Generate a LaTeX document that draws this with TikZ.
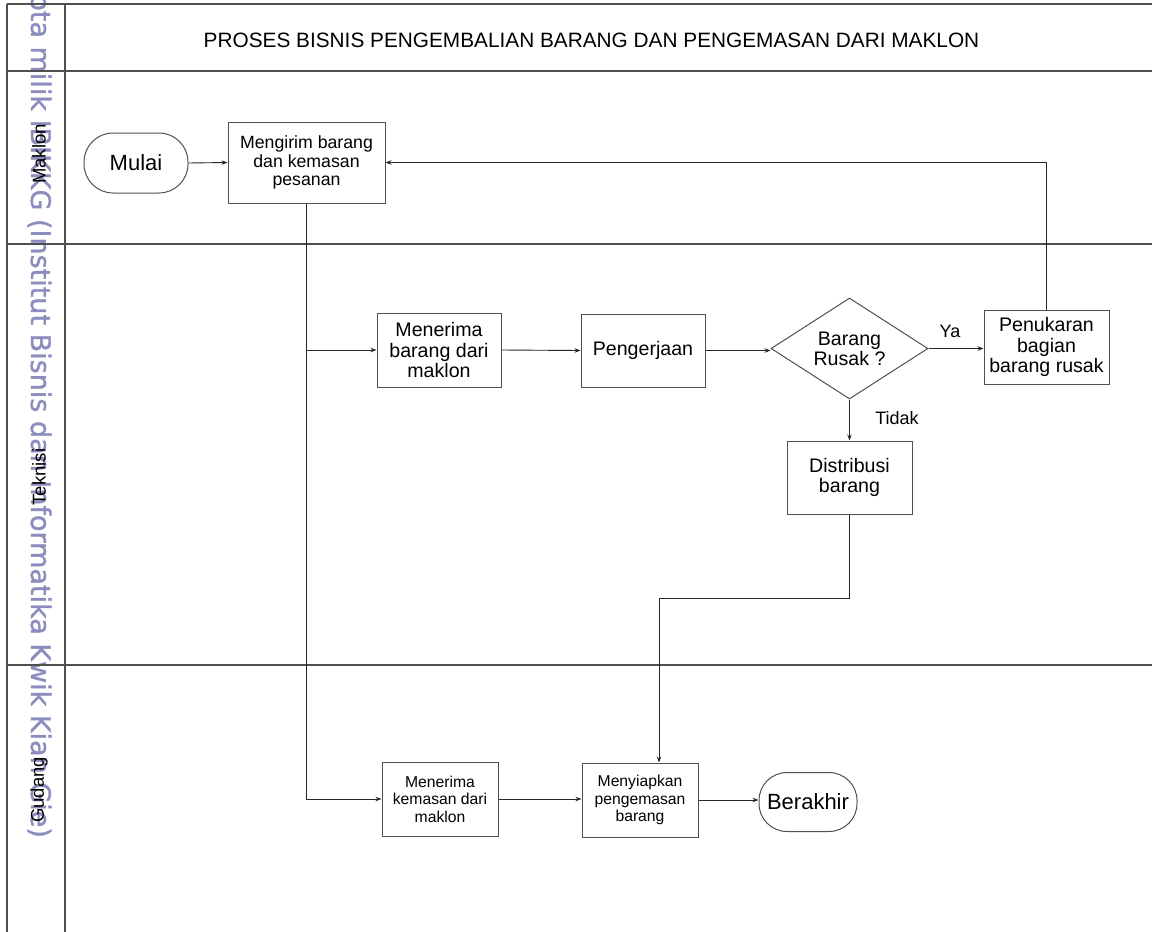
\documentclass[tikz,border=0pt]{standalone}
\usepackage{fontspec}
\setmainfont{Liberation Sans}
\newfontfamily\wmfont[FakeBold=1.2]{DejaVu Sans}
\usetikzlibrary{shapes.geometric,arrows.meta}
\definecolor{wm}{RGB}{140,140,190}
\definecolor{ln}{RGB}{80,80,80}
\tikzset{
  frameline/.style={draw=ln,line width=1.3pt},
  proc/.style={draw=ln,line width=1pt,rectangle,align=center,inner sep=0pt},
  term/.style={draw=ln,line width=1pt,rectangle,rounded corners=29pt,align=center,inner sep=0pt},
  dec/.style={draw=ln,line width=1pt,diamond,aspect=1.55,align=center,inner sep=0pt},
  arr/.style={draw=black!85,line width=0.9pt,-{Stealth[length=6pt,width=4.5pt]}},
  fMak/.style={font=\fontsize{17.7}{18.3}\selectfont},
  fTek/.style={font=\fontsize{19.6}{20.2}\selectfont},
  fGud/.style={font=\fontsize{15.7}{17.5}\selectfont},
  fTerm/.style={font=\fontsize{22}{24}\selectfont},
  fLab/.style={font=\fontsize{18}{20}\selectfont},
  fLane/.style={font=\fontsize{18.5}{19}\selectfont,rotate=90,inner sep=0pt},
}
\begin{document}
\begin{tikzpicture}[x=1pt,y=-1pt]
\useasboundingbox (0,0) rectangle (1152,932);
\fill[white] (0,0) rectangle (1152,932);
% watermark
\begin{scope}
\clip (0,0) rectangle (1152,932);
\node[rotate=-90,anchor=base east,inner sep=0pt,text=wm,font=\wmfont\fontsize{27}{27}\selectfont] (wmark) at (31,838) {pta milik IBIKKG (Institut Bisnis dan Informatika Kwik Kian Gie)};
\end{scope}
% frame
\draw[frameline] (7,4) -- (1152,4);
\draw[frameline] (7,71) -- (1152,71);
\draw[frameline] (7,244) -- (1152,244);
\draw[frameline] (7,665) -- (1152,665);
\draw[frameline] (7,4) -- (7,932);
\draw[frameline] (65,4) -- (65,932);
% title
\node[font=\fontsize{20.8}{22}\selectfont] (title) at (591.5,40) {PROSES BISNIS PENGEMBALIAN BARANG DAN PENGEMASAN DARI MAKLON};
% lane labels
\node[fLane] (lmak) at (39,154) {Maklon};
\node[fLane] (ltek) at (39,477) {Teknisi};
\node[fLane] (lgud) at (39,790) {Gudang};
% nodes
\node[term,fTerm,minimum width=104pt,minimum height=60pt] (mulai) at (136,163) {Mulai};
\node[proc,fMak,minimum width=157pt,minimum height=81pt] (kirim) at (306.5,162.5) {Mengirim barang\\dan kemasan\\pesanan};
\node[proc,fTek,minimum width=124pt,minimum height=74pt] (terima) at (439,350) {Menerima\\barang dari\\maklon};
\node[proc,fTek,minimum width=124pt,minimum height=73pt] (kerja) at (643,350.5) {Pengerjaan};
\node[dec,fTek,minimum width=157pt,minimum height=101pt] (rusak) at (849.5,348.5) {Barang\\Rusak ?};
\node[proc,fTek,minimum width=125pt,minimum height=74pt] (tukar) at (1046.5,347) {Penukaran\\bagian\\barang rusak};
\node[proc,fTek,minimum width=125pt,minimum height=73pt] (distr) at (849.5,477.5) {Distribusi\\barang};
\node[proc,fGud,minimum width=116pt,minimum height=74pt] (kemas) at (440,799) {Menerima\\kemasan dari\\maklon};
\node[proc,fGud,minimum width=116pt,minimum height=74pt] (siap) at (640,800) {Menyiapkan\\pengemasan\\barang};
\node[term,fTerm,minimum width=98pt,minimum height=59pt,rounded corners=28pt] (akhir) at (808,802) {Berakhir};
% labels
\node[fLab] (ya) at (950,331) {Ya};
\node[fLab] (tidak) at (897,418) {Tidak};
% connectors
\coordinate (j1) at (659,598);
\draw[arr] (mulai.east) -- (kirim.west);
\draw[arr] (kirim.south) -- (kirim.south |- kemas.west) -- (kemas.west);
\draw[arr] (kirim.south |- terima.west) -- (terima.west);
\draw[arr] (terima.east) -- (kerja.west);
\draw[arr] (kerja.east) -- (kerja.east -| rusak.west);
\draw[arr] (rusak.east) -- (rusak.east -| tukar.west);
\draw[arr] (rusak.south) -- (distr.north);
\draw[arr] (tukar.north) |- (kirim.east);
\draw[arr] (distr.south) |- (j1) -- (j1 |- siap.north);
\draw[arr] (kemas.east) -- (kemas.east -| siap.west);
\draw[arr] (siap.east) -- (siap.east -| akhir.west);
\end{tikzpicture}
\end{document}
